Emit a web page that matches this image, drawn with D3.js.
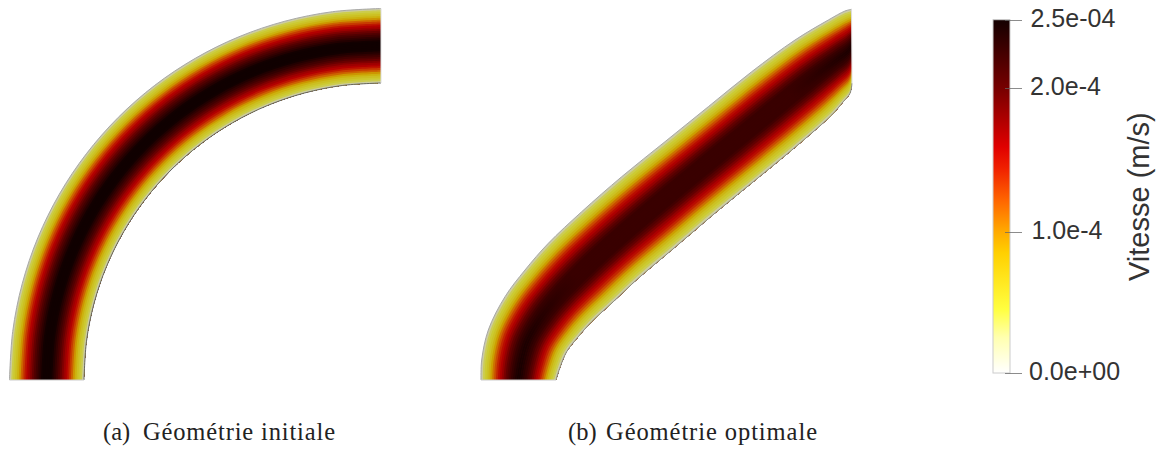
<!DOCTYPE html>
<html><head><meta charset="utf-8">
<style>html,body{margin:0;padding:0;background:#fff}svg{display:block}</style>
<script src="https://cdn.jsdelivr.net/npm/d3@7"></script>
</head><body><div id="c"></div>
<script>
// channel walls (data units), paired across the channel
const initOuter=[[0,0],[3.2,48.5],[12.7,96.2],[28.3,142.2],[49.8,185.8],[76.8,226.2],[108.8,262.7],[145.3,294.7],[185.8,321.7],[229.3,343.2],[275.4,358.8],[323,368.3],[371.5,371.5]];
const initInner=[[74.5,0],[77,38.8],[84.6,76.9],[97.1,113.7],[114.3,148.5],[135.9,180.8],[161.5,210],[190.7,235.6],[223,257.2],[257.8,274.4],[294.6,286.9],[332.7,294.5],[371.5,297]];
const optOuter=[[0,0],[.7,20],[7.3,50],[24,83.3],[44,110],[67.3,136.7],[100.7,168.3],[140.7,203.3],[184,238.3],[227.3,273.3],[270.7,308.3],[314,340],[347.3,360],[364,369],[370.5,370.7]];
const optInner=[[75,0],[79.3,13.3],[85.7,28.3],[97.3,43.3],[110.7,58.3],[132.3,78.3],[157.3,101.7],[194,132.7],[235.7,168.3],[277.3,202.3],[320.7,238.3],[350.7,265],[362.3,278.3],[369,286.7],[371,296.7]];
// velocity across the channel (1e-4 m/s), wall to centre line
const halfProfile=[0,.33,.42,.5,.62,.78,1,1.18,1.32,1.48,1.58,1.68,1.82,1.94,2.05,2.14,2.24,2.32,2.4,2.46,2.5];
const profile=[...halfProfile,...halfProfile.slice(0,-1).reverse()];
const initGain=1.05;
const optMidCap=2.25;
const optEndOffsets=[0,.13,.27,.8,.93,1];
const optEndWeights=[1,.7,0,0,.7,1];
// colour map
const cmapValues=[0,.25,.45,.85,1,1.22,1.45,1.6,2,2.5];
const cmapColors=["#ffffff","#ffffb0","#ffff40","#ffd000","#ffaa00","#ff6600","#f02000","#e00000","#7a0000","#140000"];
const legendTicks=[0,1,2.02,2.5];
const legendLabels=["0.0e+00","1.0e-4","2.0e-4","2.5e-04"];
const legendX=[1029,1031.5,1030,1030.5];
const legendTitle="Vitesse (m/s)";
const captions=[["(a)","Géométrie initiale"],["(b)","Géométrie optimale"]];
const shade=0.8;

const W=1158,H=451;
const svg=d3.select("#c").append("svg").attr("width",W).attr("height",H).attr("viewBox",[0,0,W,H]);
const defs=svg.append("defs");
const color=d3.scaleLinear().domain(cmapValues).range(cmapColors).interpolate(d3.interpolateRgb);
const lit=v=>{const c=d3.rgb(color(v));return d3.rgb(c.r*shade,c.g*shade,c.b*shade).formatRgb();};
const yS=d3.scaleLinear().domain([0,371.5]).range([380,8.5]);
let gid=0;

function panel(outer,inner,xS,innerStroke,outerStroke,cap,gain){
  const g=svg.append("g");
  const at=(i,t)=>[outer[i][0]+(inner[i][0]-outer[i][0])*t,outer[i][1]+(inner[i][1]-outer[i][1])*t];
  const idx=d3.range(outer.length);
  const n=profile.length-1;
  const curve=d3.curveCatmullRom.alpha(0.5);
  const band=(t0,t1)=>d3.area().curve(curve)
      .x0(i=>xS(at(i,t0)[0])).y0(i=>yS(at(i,t0)[1]))
      .x1(i=>xS(at(i,t1)[0])).y1(i=>yS(at(i,t1)[1]))(idx);
  for(let s=0;s<n;s++){
    const v=Math.min(2.5,gain*(profile[s]+profile[s+1])/2);
    g.append("path").attr("d",band(s/n,1)).attr("fill",lit(cap?Math.min(v,cap):v));
  }
  if(cap){
    for(let s=0;s<n;s++){
      const v=(profile[s]+profile[s+1])/2;
      if(v<=cap) continue;
      const id="end"+(gid++);
      const gr=defs.append("linearGradient").attr("id",id).attr("gradientUnits","userSpaceOnUse")
        .attr("x1",xS(0)).attr("y1",yS(0)).attr("x2",xS(370)).attr("y2",yS(371));
      optEndOffsets.forEach((o,k)=>gr.append("stop").attr("offset",o).attr("stop-color",lit(v)).attr("stop-opacity",optEndWeights[k]));
      g.append("path").attr("d",band(s/n,(s+1)/n)).attr("fill",`url(#${id})`);
    }
  }
  const l=d3.line().curve(curve).x(d=>xS(d[0])).y(d=>yS(d[1]));
  g.append("path").attr("d",l(outer)).attr("fill","none").attr("stroke",outerStroke).attr("stroke-width",1);
  g.append("path").attr("d",l(inner)).attr("fill","none").attr("stroke",innerStroke).attr("stroke-width",1);
  const straight=d3.line().x(d=>xS(d[0])).y(d=>yS(d[1]));
  g.append("path").attr("d",straight([outer[0],inner[0]])).attr("stroke","#ccc").attr("fill","none");
  g.append("path").attr("d",straight([outer[outer.length-1],inner[inner.length-1]])).attr("stroke","#ddd").attr("fill","none");
}
panel(initOuter,initInner,d3.scaleLinear().domain([0,371.5]).range([9.5,381]),"#666","#a8a8a8",null,initGain);
panel(optOuter,optInner,d3.scaleLinear().domain([0,370]).range([481,851]),"#888","#a8a8a8",optMidCap,1);

// legend
const lY=d3.scaleLinear().domain([0,2.5]).range([373,19.7]);
const grad=defs.append("linearGradient").attr("id","cm").attr("x1",0).attr("x2",0).attr("y1",1).attr("y2",0);
cmapValues.forEach((v,i)=>grad.append("stop").attr("offset",v/2.5).attr("stop-color",cmapColors[i]));
svg.append("rect").attr("x",993).attr("y",lY(2.5)).attr("width",17).attr("height",lY(0)-lY(2.5))
  .attr("fill","url(#cm)").attr("stroke","#ccc").attr("stroke-width",1);
const lg=svg.append("g");
legendTicks.forEach((v,i)=>{
  lg.append("line").attr("x1",1005).attr("x2",1022).attr("y1",Math.round(lY(v))+.5).attr("y2",Math.round(lY(v))+.5)
    .attr("stroke","#666").attr("stroke-opacity",.75);
  lg.append("text").attr("x",legendX[i]).attr("y",lY(v)+7)
    .attr("font-family","Liberation Sans").attr("font-size",25).attr("fill","#333").text(legendLabels[i]);
});
svg.append("text").attr("transform","translate(1149,281) rotate(-90)")
  .attr("font-family","Liberation Sans").attr("font-size",29).attr("fill","#333").text(legendTitle);

// captions
[[103,143,335],[568,606,817]].forEach((p,i)=>{
  const c=svg.append("g").attr("font-family","Liberation Serif").attr("font-size",24.5).attr("fill","#222");
  c.append("text").attr("x",p[0]).attr("y",440).text(captions[i][0]);
  c.append("text").attr("x",p[1]).attr("y",440).attr("textLength",p[2]-p[1]).attr("lengthAdjust","spacing").text(captions[i][1]);
});
</script></body></html>
